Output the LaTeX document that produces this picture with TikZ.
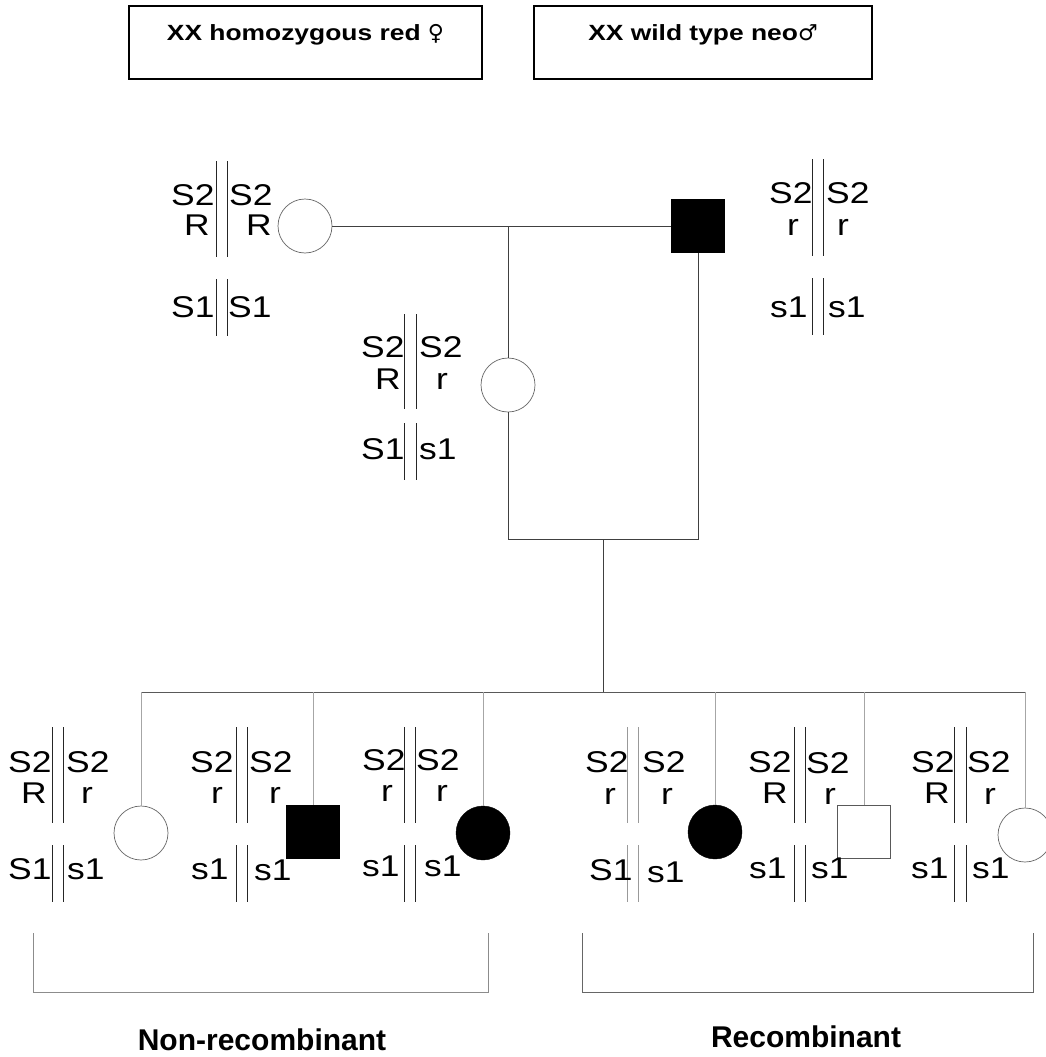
\documentclass[tikz,border=0pt]{standalone}
\usepackage{fontspec}
\setmainfont{Liberation Sans}
\newfontfamily\genofont{Liberation Sans}[FakeStretch=1.18]
\newfontfamily\boxfont{Liberation Sans}[FakeStretch=1.2]
\newfontfamily\symfont{DejaVu Sans}
\newcommand\chrpair[7]{\draw[#7] (#1,#3) -- (#1,#4) (#2,#3) -- (#2,#4) (#1,#5) -- (#1,#6) (#2,#5) -- (#2,#6);}
\newcommand\al[4]{\node[allele] (#1) at (#2,#3) {#4};}
\tikzset{
  conn/.style={draw=black!75, line width=1pt},
  drop/.style={draw=black!35, line width=0.9pt},
  femopen/.style={circle, draw=black!60, line width=0.7pt, fill=white, minimum size=54pt, inner sep=0pt},
  femfill/.style={circle, draw=black, fill=black, minimum size=54pt, inner sep=0pt},
  malefill/.style={rectangle, draw=black, fill=black, minimum size=53pt, inner sep=0pt},
  maleopen/.style={rectangle, draw=black!65, line width=0.8pt, fill=white, minimum size=53pt, inner sep=0pt},
  allele/.style={anchor=base west, inner sep=0pt, font=\genofont\fontsize{30}{36}\selectfont},
  chrom/.style={draw=black!85, line width=0.9pt},
  chromlight/.style={draw=black!40, line width=0.8pt},
  brack/.style={draw=black!45, line width=1pt},
  lbl/.style={anchor=base, inner sep=0pt, font=\bfseries\fontsize{30}{36}\selectfont},
  hdr/.style={draw=black, line width=1.6pt, inner sep=0pt, text height=35pt, text depth=38pt, anchor=north, font=\boxfont\bfseries\fontsize{22}{26}\selectfont}
}
\begin{document}
\begin{tikzpicture}[x=1pt,y=-1pt]
\useasboundingbox[fill=white] (0,0) rectangle (1045,1057);

% header boxes
\node[hdr, minimum width=353pt] (box1) at (305.5,5) {XX homozygous red {\symfont\mdseries\fontsize{22}{26}\selectfont ♀}};
\node[hdr, minimum width=338pt] (box2) at (703,5) {XX wild type neo{\symfont\mdseries\fontsize{22}{26}\selectfont ♂}};

% parents
\node[femopen] (pf) at (305,226) {};
\node[malefill] (pm) at (698,226) {};
\coordinate (mt) at (508,226);
\node[femopen] (f1) at (508,385) {};
\coordinate (sbl) at (508,539);
\coordinate (sbr) at (698,539);
\coordinate (sbm) at (603,539);
\coordinate (sib) at (603,692);

\draw[conn] (pf.east) -- (pm.west);
\draw[conn] (mt) -- (f1.north);
\draw[conn] (f1.south) -- (sbl) -- (sbr) -- (pm.south);
\draw[conn] (sbm) -- (sib);

% children
\node[femopen] (c1) at (141,833) {};
\node[malefill] (c2) at (313,831.5) {};
\node[femfill] (c3) at (483,833) {};
\node[femfill] (c4) at (715,832) {};
\node[maleopen] (c5) at (864,832) {};
\node[femopen] (c6) at (1025,835) {};

\coordinate (t1) at (141,692);
\coordinate (t2) at (313,692);
\coordinate (t3) at (483,692);
\coordinate (t4) at (715,692);
\coordinate (t5) at (864,692);
\coordinate (t6) at (1025,692);
\draw[draw=black!65, line width=1pt] (t1) -- (t6);
\draw[drop] (t1) -- (c1.north);
\draw[drop] (t2) -- (c2.north);
\draw[drop] (t3) -- (c3.north);
\draw[drop] (t4) -- (c4.north);
\draw[drop] (t5) -- (c5.north);
\draw[drop] (t6) -- (c6.north);

% chromosome lines
\chrpair{216}{227}{161}{257}{279}{336}{chrom}
\chrpair{812}{823}{159}{256}{278}{335}{chrom}
\chrpair{404}{416.5}{314}{409}{423}{480}{chrom}
\chrpair{52.7}{63.3}{727}{823}{845}{902}{chrom}
\chrpair{236.7}{247.3}{727}{823}{845}{902}{chrom}
\chrpair{404}{415}{727}{823}{845}{902}{chrom}
\chrpair{627.5}{638.5}{727}{823}{845}{902}{chromlight}
\chrpair{794}{805}{727}{823}{845}{902}{chrom}
\chrpair{954}{966}{727}{823}{845}{902}{chrom}

% alleles: P female
\al{pfa}{171}{205}{S2} \al{pfb}{184}{235}{R} \al{pfc}{229}{205}{S2} \al{pfd}{246}{235}{R}
\al{pfe}{171}{317}{S1} \al{pff}{228}{317}{S1}
% P male
\al{pma}{769}{203}{S2} \al{pmb}{787}{235}{r} \al{pmc}{826}{203}{S2} \al{pmd}{837}{235}{r}
\al{pme}{770}{317}{s1} \al{pmf}{828}{317}{s1}
% F1 female
\al{fa}{361}{357}{S2} \al{fb}{375}{389}{R} \al{fc}{419}{357}{S2} \al{fd}{436}{389}{r}
\al{fe}{361}{459}{S1} \al{ff}{419}{459}{s1}
% child 1
\al{aa}{8}{772}{S2} \al{ab}{21}{803}{R} \al{ac}{66}{772}{S2} \al{ad}{81}{803}{r}
\al{ae}{8}{879}{S1} \al{af}{67}{879}{s1}
% child 2
\al{ba}{190}{772}{S2} \al{bb}{211}{803}{r} \al{bc}{249}{772}{S2} \al{bd}{269}{803}{r}
\al{be}{191}{879}{s1} \al{bf}{254}{880}{s1}
% child 3
\al{ca}{362}{770}{S2} \al{cb}{381}{801}{r} \al{cc}{416}{770}{S2} \al{cd}{436}{801}{r}
\al{ce}{362}{876}{s1} \al{cf}{424}{876}{s1}
% child 4
\al{da}{585}{772}{S2} \al{db}{604}{804}{r} \al{dc}{642}{772}{S2} \al{dd}{661}{804}{r}
\al{de}{589}{880}{S1} \al{df}{647}{882}{s1}
% child 5
\al{ea}{748}{772}{S2} \al{eb}{762}{803}{R} \al{ec}{806}{773}{S2} \al{ed}{824}{804}{r}
\al{ee}{749}{878}{s1} \al{ef}{811}{878}{s1}
% child 6
\al{ga}{911}{772}{S2} \al{gb}{924}{803}{R} \al{gc}{967}{772}{S2} \al{gd}{984}{804}{r}
\al{ge}{911}{878}{s1} \al{gf}{972}{878}{s1}

% brackets
\draw[brack] (33,933) -- (33,992) -- (488,992) -- (488,933);
\draw[brack, draw=black!60] (582,933) -- (582,992) -- (1033,992) -- (1033,933);

\node[lbl] (nonrec) at (262,1050) {Non-recombinant};
\node[lbl] (rec) at (806,1047) {Recombinant};
\end{tikzpicture}
\end{document}
